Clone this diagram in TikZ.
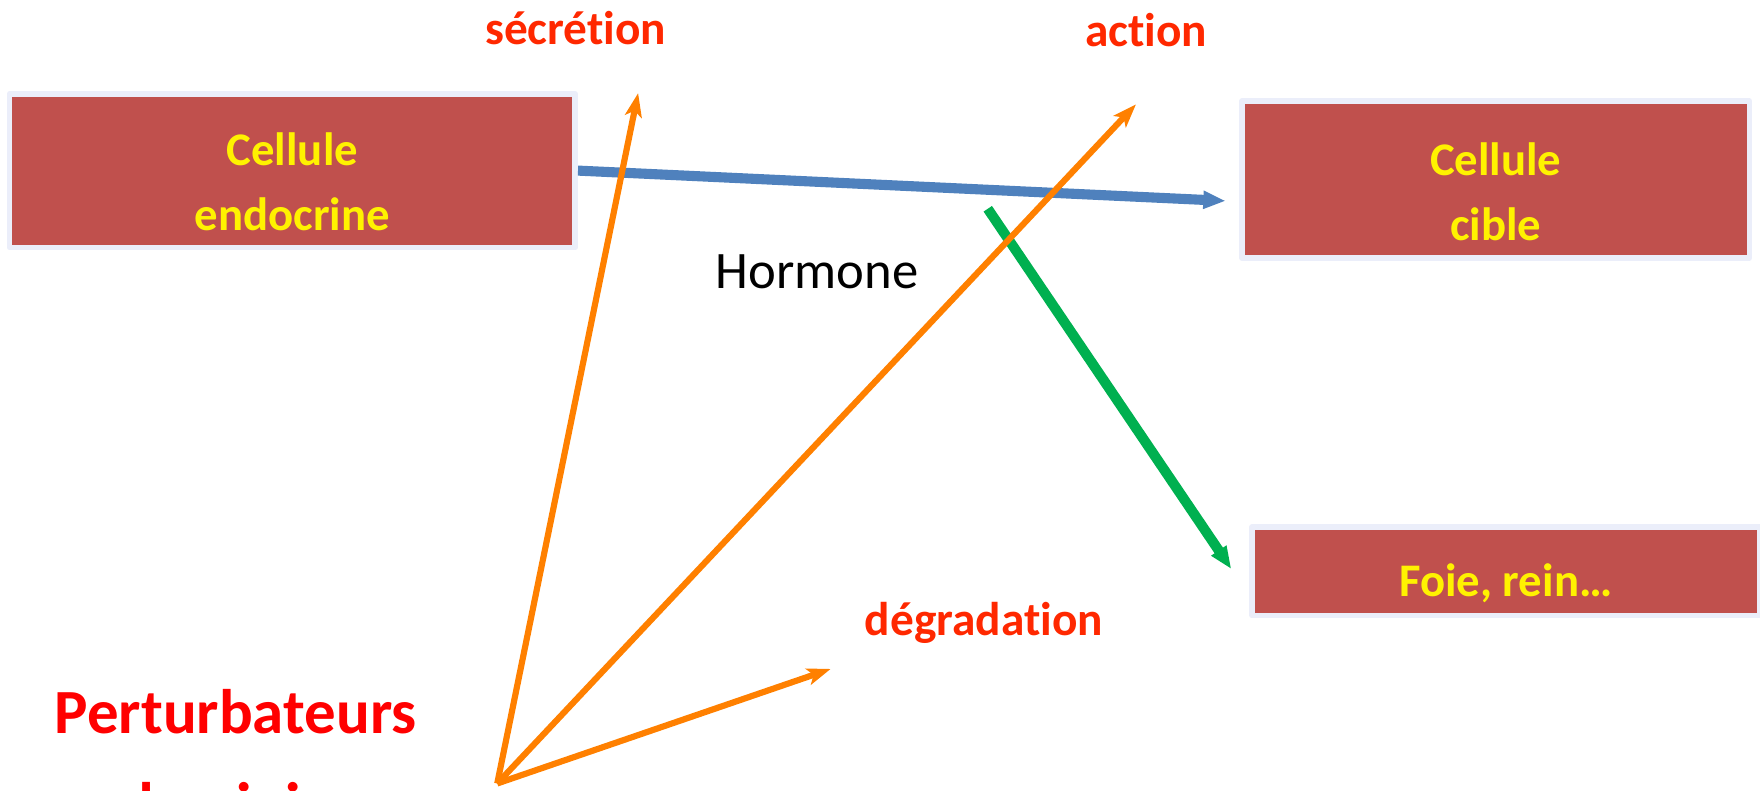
\documentclass[tikz,border=0pt]{standalone}
\usepackage{fontspec}
\setmainfont{Carlito}[Ligatures={NoCommon,NoRare}]
\usetikzlibrary{arrows.meta}
\definecolor{boxred}{RGB}{192,80,77}
\definecolor{boxframe}{RGB}{235,238,250}
\definecolor{labred}{RGB}{255,40,0}
\definecolor{arrorange}{RGB}{255,128,0}
\definecolor{arrblue}{RGB}{79,129,189}
\definecolor{arrgreen}{RGB}{0,176,80}
\begin{document}
\begin{tikzpicture}[x=0.02cm, y=-0.02cm, line join=round,
		cellbox/.style={draw=boxframe, line width=0.1cm, fill=boxred, text=yellow, inner sep=0pt,
			align=center, text depth=0pt, font=\bfseries\fontsize{23.7}{33}\selectfont},
		lab/.style={text=labred, anchor=base, inner sep=0pt, font=\bfseries\fontsize{24}{29}\selectfont},
		orangearr/.style={arrorange, line width=0.11cm, -{Stealth[length=0.42cm, width=0.3cm, inset=0.1cm]}},
		thickarr/.style={line width=0.18cm, -{Triangle[length=0.4cm, width=0.3cm]}}]
	\useasboundingbox (0,0) rectangle (1568,704.7);
	% boites
	\node[cellbox, minimum width=10.08cm, minimum height=2.74cm, text height=2.12cm] (endo) at (260.5,152) {Cellule\\endocrine};
	\node[cellbox, minimum width=9.04cm, minimum height=2.8cm, text height=2.16cm] (cible) at (1332.5,160) {Cellule\\cible};
	\node[cellbox, minimum width=9.04cm, minimum height=1.58cm, text height=0.88cm] (foie) at (1341.5,509) {Foie, rein…};
	% points des fleches
	\path (1092,179) coordinate (hend)
		(880,186) coordinate (gstart)
		(1097,507) coordinate (gend)
		(443,698) coordinate (P)
		(568.5,83) coordinate (psec)
		(1012,93) coordinate (pact)
		(740,596) coordinate (pdeg);
	\draw[thickarr, arrblue] (endo.east) -- (hend);
	\draw[thickarr, arrgreen] (gstart) -- (gend);
	\foreach \q in {psec,pact,pdeg}{
		\draw[orangearr] (P) -- (\q);}
	% textes
	\foreach \n/\p/\t in {sec/{(513,40)}/sécrétion, act/{(1021,41.6)}/action, deg/{(876.5,566.5)}/dégradation}{
		\node[lab] (\n) at \p {\t};}
	\node[anchor=base, inner sep=0pt, font=\fontsize{26.7}{32}\selectfont] (horm) at (728,257) {Hormone};
	\node[anchor=base west, inner sep=0pt, align=left, text=red, font=\bfseries\fontsize{31.9}{47.2}\selectfont] (pert) at (48.5,736) {Perturbateurs\\endocriniens};
\end{tikzpicture}
\end{document}
